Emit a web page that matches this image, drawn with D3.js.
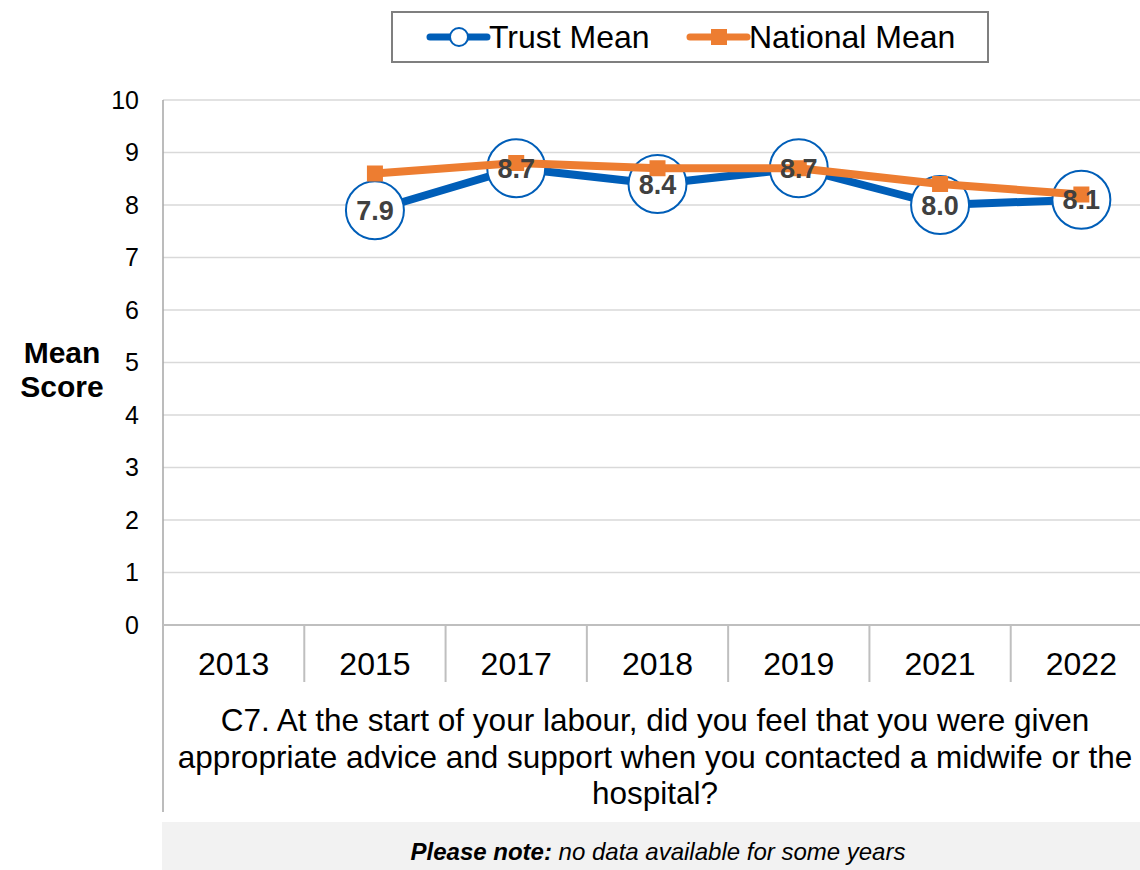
<!DOCTYPE html>
<html>
<head>
<meta charset="utf-8">
<script src="https://cdn.jsdelivr.net/npm/d3@7"></script>
<style>
  html, body { margin: 0; padding: 0; background: #fff; }
  svg { display: block; font-family: "Liberation Sans", Arial, sans-serif; }
</style>
</head>
<body>
<svg id="chart" width="1140" height="870"></svg>
<script>
const years = ["2013", "2015", "2017", "2018", "2019", "2021", "2022"];
const trustMean = [null, 7.9, 8.7, 8.4, 8.7, 8.0, 8.1];
const nationalMean = [null, 8.6, 8.8, 8.7, 8.7, 8.4, 8.2];
const yTicks = [0, 1, 2, 3, 4, 5, 6, 7, 8, 9, 10];
const seriesNames = ["Trust Mean", "National Mean"];
const yTitle = ["Mean", "Score"];
const xTitle = [
  "C7. At the start of your labour, did you feel that you were given",
  "appropriate advice and support when you contacted a midwife or the",
  "hospital?"
];
const noteBold = "Please note:";
const noteText = " no data available for some years";

(function () {
const blue = "#005EB8", orange = "#ED7D31";
const svg = d3.select("#chart");

const pL = 163, pR = 1152, pT = 100, pB = 625;
const x = d3.scaleBand().domain(years).range([pL, pR]).padding(0);
const y = d3.scaleLinear().domain([0, 10]).range([pB, pT]);

// gridlines
svg.append("g").selectAll("line").data(yTicks.filter(d => d > 0)).join("line")
  .attr("x1", pL).attr("x2", pR)
  .attr("y1", d => y(d)).attr("y2", d => y(d))
  .attr("stroke", "#d9d9d9").attr("stroke-width", 1.3);

// y tick labels
svg.append("g").selectAll("text").data(yTicks).join("text")
  .attr("x", 139).attr("y", d => y(d)).attr("dy", "0.35em")
  .attr("text-anchor", "end").attr("font-size", 25).attr("fill", "#000")
  .text(d => d);

// left axis line
svg.append("line").attr("x1", pL).attr("x2", pL).attr("y1", pT).attr("y2", 812)
  .attr("stroke", "#a6a6a6").attr("stroke-width", 1.5);

// bottom axis line
svg.append("line").attr("x1", pL).attr("x2", pR).attr("y1", pB).attr("y2", pB)
  .attr("stroke", "#bfbfbf").attr("stroke-width", 2);

// category separators
svg.append("g").selectAll("line").data(years.slice(1)).join("line")
  .attr("x1", d => x(d)).attr("x2", d => x(d))
  .attr("y1", pB).attr("y2", 682)
  .attr("stroke", "#bfbfbf").attr("stroke-width", 2);

// x tick labels
svg.append("g").selectAll("text").data(years).join("text")
  .attr("x", d => x(d) + x.bandwidth() / 2).attr("y", 675)
  .attr("text-anchor", "middle").attr("font-size", 32).attr("fill", "#000")
  .text(d => d);

// y title
svg.append("g").selectAll("text").data(yTitle).join("text")
  .attr("x", 62).attr("y", (d, i) => 363 + i * 34)
  .attr("text-anchor", "middle").attr("font-size", 30).attr("font-weight", "bold")
  .text(d => d);

// x title
svg.append("g").selectAll("text").data(xTitle).join("text")
  .attr("x", 655).attr("y", (d, i) => 731 + i * 36.5)
  .attr("text-anchor", "middle").attr("font-size", 31.5).attr("fill", "#000")
  .text(d => d);

// note box
svg.append("rect").attr("x", 162).attr("y", 822).attr("width", 1140 - 162).attr("height", 48)
  .attr("fill", "#f2f2f2");
const note = svg.append("text").attr("x", 658).attr("y", 860)
  .attr("text-anchor", "middle").attr("font-size", 24).attr("font-style", "italic");
note.append("tspan").attr("font-weight", "bold").text(noteBold);
note.append("tspan").text(noteText);

const cx = i => x(years[i]) + x.bandwidth() / 2;
const trustPts = trustMean.map((v, i) => ({ v, i })).filter(d => d.v != null);
const natPts = nationalMean.map((v, i) => ({ v, i })).filter(d => d.v != null);

const line = d3.line().x(d => cx(d.i)).y(d => y(d.v));

// trust line
svg.append("path").datum(trustPts).attr("d", line)
  .attr("fill", "none").attr("stroke", blue).attr("stroke-width", 8)
  .attr("stroke-linejoin", "round");
// trust circles
svg.append("g").selectAll("circle").data(trustPts).join("circle")
  .attr("cx", d => cx(d.i)).attr("cy", d => y(d.v)).attr("r", 29)
  .attr("fill", "#fff").attr("stroke", blue).attr("stroke-width", 2);

// national line
svg.append("path").datum(natPts).attr("d", line)
  .attr("fill", "none").attr("stroke", orange).attr("stroke-width", 8)
  .attr("stroke-linejoin", "round");
svg.append("g").selectAll("rect").data(natPts).join("rect")
  .attr("x", d => cx(d.i) - 8).attr("y", d => y(d.v) - 8)
  .attr("width", 16).attr("height", 16).attr("fill", orange);

// data labels
svg.append("g").selectAll("text").data(trustPts).join("text")
  .attr("x", d => cx(d.i)).attr("y", d => y(d.v)).attr("dy", "0.36em")
  .attr("text-anchor", "middle").attr("font-size", 27).attr("font-weight", "bold")
  .attr("fill", "#404040")
  .text(d => d3.format(".1f")(d.v));

// legend
const lg = svg.append("g");
lg.append("rect").attr("x", 392).attr("y", 12).attr("width", 596).attr("height", 50)
  .attr("fill", "#fff").attr("stroke", "#7f7f7f").attr("stroke-width", 2);
lg.append("line").attr("x1", 430).attr("x2", 487).attr("y1", 37).attr("y2", 37)
  .attr("stroke", blue).attr("stroke-width", 7).attr("stroke-linecap", "round");
lg.append("circle").attr("cx", 459).attr("cy", 37).attr("r", 9)
  .attr("fill", "#fff").attr("stroke", blue).attr("stroke-width", 2);
lg.append("text").attr("x", 489).attr("y", 48).attr("font-size", 32).text(seriesNames[0]);
lg.append("line").attr("x1", 690).attr("x2", 747).attr("y1", 37).attr("y2", 37)
  .attr("stroke", orange).attr("stroke-width", 7).attr("stroke-linecap", "round");
lg.append("rect").attr("x", 711).attr("y", 29).attr("width", 16).attr("height", 16).attr("fill", orange);
lg.append("text").attr("x", 749).attr("y", 48).attr("font-size", 32).text(seriesNames[1]);
})();
</script>
</body>
</html>
